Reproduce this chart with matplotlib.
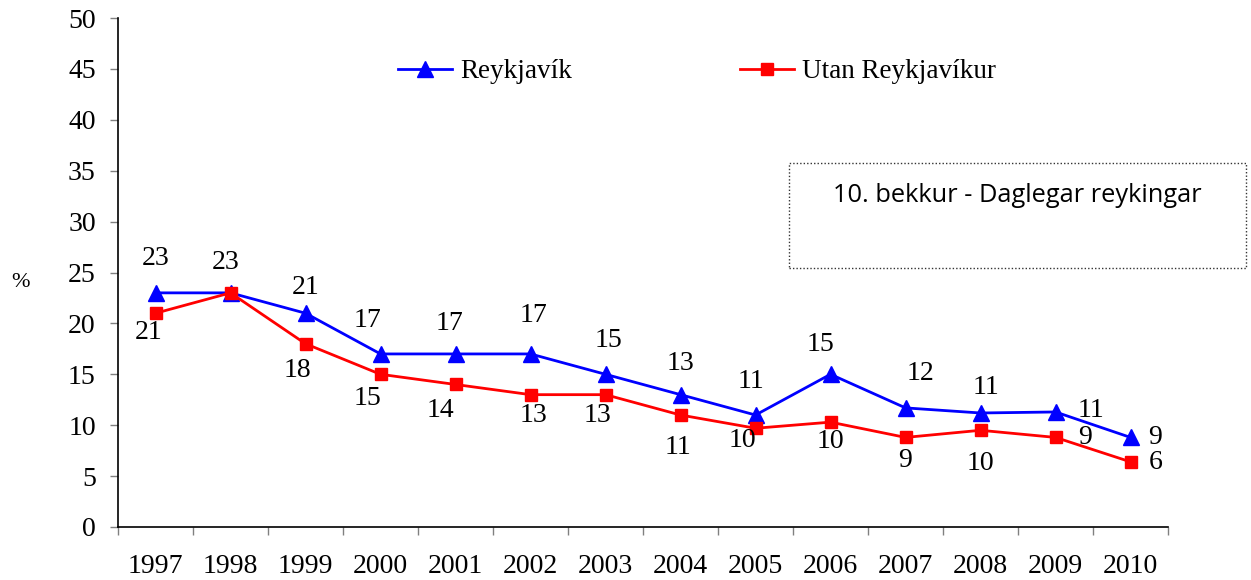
import matplotlib
matplotlib.use("Agg")
import matplotlib.pyplot as plt
from matplotlib.patches import Rectangle
import numpy as np

years = ["1997", "1998", "1999", "2000", "2001", "2002", "2003",
         "2004", "2005", "2006", "2007", "2008", "2009", "2010"]
reykjavik = [23, 23, 21, 17, 17, 17, 15, 13, 11, 15, 11.7, 11.2, 11.3, 8.8]
utan = [21, 23, 18, 15, 14, 13, 13, 11, 9.7, 10.3, 8.8, 9.5, 8.8, 6.4]
reykjavik_labels = ["23", "23", "21", "17", "17", "17", "15", "13", "11", "15", "12", "11", "11", "9"]
utan_labels = ["21", "", "18", "15", "14", "13", "13", "11", "10", "10", "9", "10", "9", "6"]

# label offsets in pixels (dx, dy)
r_off = [(0, 34), (-5, 30), (0, 26), (-13, 33), (-6, 30), (3, 38), (3, 34), (0, 31),
         (-5, 34), (-10, 30), (15, 34), (5, 25), (35, 1), (25, 0)]
u_off = [(-7, -19), (0, 0), (-8, -27), (-13, -24), (-15, -26), (3, -21), (-8, -21), (-3, -32),
         (-13, -12), (0, -19), (0, -23), (0, -33), (30, 0), (25, -1)]

W, H = 1251, 580
fig = plt.figure(figsize=(W / 100, H / 100), dpi=100)
ax = fig.add_axes([118 / W, 1 - 527 / H, (1168 - 118) / W, (527 - 18) / H])

serif = "Liberation Serif"
fs = 20

x = np.arange(len(years))
l1, = ax.plot(x, reykjavik, color="#0000FF", lw=2.0, marker="^", markersize=11, label="Reykjavík")
l2, = ax.plot(x, utan, color="#FF0000", lw=2.0, marker="s", markersize=9, label="Utan Reykjavíkur")

for i in range(len(years)):
    if reykjavik_labels[i]:
        ax.annotate(reykjavik_labels[i], (x[i], reykjavik[i]), xytext=r_off[i],
                    textcoords="offset pixels", ha="center", va="center",
                    fontsize=fs, family=serif)
    if utan_labels[i]:
        ax.annotate(utan_labels[i], (x[i], utan[i]), xytext=u_off[i],
                    textcoords="offset pixels", ha="center", va="center",
                    fontsize=fs, family=serif)

ax.set_xlim(-0.5, len(years) - 0.5)
ax.set_ylim(0, 50)
ax.set_yticks(np.arange(0, 51, 5))
ax.set_xticks(np.arange(-0.5, len(years), 1))
ax.set_xticklabels([])
ax.set_xticks(x, minor=True)
ax.set_xticklabels(years, minor=True)
ax.tick_params(axis="x", which="major", length=6, color="#808080", width=1, direction="out")
ax.tick_params(axis="x", which="minor", length=0, pad=19.5, labelsize=fs)
ax.tick_params(axis="y", length=6, color="#808080", width=1, pad=10, labelsize=fs)
for lab in ax.get_xticklabels(minor=True) + ax.get_yticklabels():
    lab.set_family(serif)

for s in ["top", "right"]:
    ax.spines[s].set_visible(False)
for s in ["left", "bottom"]:
    ax.spines[s].set_linewidth(1.2)
    ax.spines[s].set_color("black")

fig.text(20 / W, 1 - 283 / H, "%", fontsize=16, family=serif, ha="center", va="center")

leg = fig.legend(handles=[l1, l2], loc="center left", bbox_to_anchor=(398 / W, 1 - 72 / H),
                 ncol=2, frameon=False, prop={"family": serif, "size": 19.5},
                 handlelength=2.0, handletextpad=0.3, columnspacing=6.2,
                 borderpad=0, borderaxespad=0)

rect = Rectangle((789 / W, 1 - 268 / H), (1246 - 789) / W, (268 - 163) / H,
                 transform=fig.transFigure, fill=False, ls=(0, (1, 1.5)), lw=1.0,
                 edgecolor="#333333")
fig.patches.append(rect)
fig.text(1017 / W, 1 - 195 / H, "10. bekkur - Daglegar reykingar", fontsize=18.3,
         family="Open Sans", ha="center", va="center")

fig.savefig("out.png", dpi=100)
